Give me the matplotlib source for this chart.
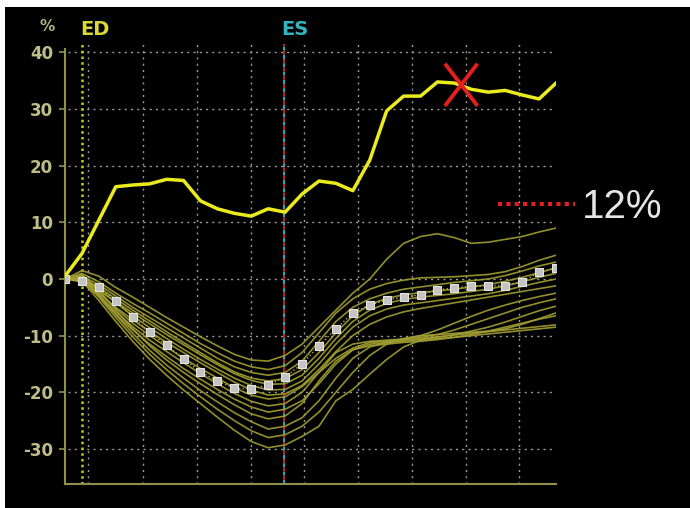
import matplotlib.pyplot as plt
from matplotlib.patches import Rectangle
from matplotlib.lines import Line2D
import numpy as np

plt.rcParams['axes.unicode_minus'] = False

# frame index along the cycle
frames = list(range(30))

# global curve (bright yellow)
global_strain = [0.5, 4.5, 10.4, 16.3, 16.6, 16.8, 17.6, 17.4, 13.8, 12.4,
                 11.6, 11.1, 12.4, 11.8, 15.0, 17.3, 16.9, 15.6, 21.0, 29.7,
                 32.3, 32.3, 34.8, 34.6, 33.5, 33.0, 33.3, 32.5, 31.8, 34.6]

# mean of segments (grey squares)
mean_strain = [0.0, -0.4, -1.4, -3.9, -6.7, -9.4, -11.7, -14.1, -16.4, -18.0,
               -19.3, -19.4, -18.7, -17.3, -15.0, -11.8, -8.8, -6.0, -4.6, -3.7,
               -3.2, -2.8, -1.9, -1.6, -1.2, -1.2, -1.2, -0.5, 1.2, 1.9]

# individual segment curves
seg_a = [0, 1.5, 0.5, -1.5, -3.2, -5.0, -6.8, -8.5, -10.2, -11.8, -13.3, -14.3, -14.5, -13.5, -11.5,
         -8.5, -5.5, -2.5, 0.0, 3.5, 6.3, 7.5, 8.0, 7.3, 6.3, 6.5, 7.0, 7.5, 8.3, 9.0]
seg_b = [0, 1.0, -0.5, -2.5, -4.3, -6.0, -7.8, -9.6, -11.4, -13.0, -14.5, -15.5, -16.0, -15.3, -13.0,
         -9.5, -6.0, -3.5, -1.8, -0.8, -0.2, 0.2, 0.3, 0.4, 0.6, 0.8, 1.3, 2.2, 3.3, 4.2]
seg_c = [0, 0.5, -1.0, -3.0, -5.0, -6.8, -8.6, -10.4, -12.2, -14.0, -15.5, -16.5, -17.0, -16.5, -14.5,
         -11.0, -7.5, -5.0, -3.5, -2.5, -1.8, -1.4, -1.0, -0.6, -0.3, 0.0, 0.6, 1.4, 2.3, 3.0]
seg_d = [0, 0.2, -1.5, -3.5, -5.5, -7.4, -9.3, -11.2, -13.0, -14.8, -16.4, -17.5, -18.0, -17.6, -16.0,
         -13.0, -9.5, -6.5, -4.5, -3.4, -2.8, -2.4, -2.1, -1.8, -1.4, -1.0, -0.4, 0.3, 1.1, 2.0]
seg_e = [0, 0.0, -2.0, -4.0, -6.0, -7.9, -9.8, -11.6, -13.4, -15.1, -16.7, -17.9, -18.6, -18.5, -17.0,
         -14.0, -10.5, -7.5, -5.5, -4.3, -3.6, -3.2, -2.9, -2.6, -2.2, -1.8, -1.2, -0.5, 0.3, 1.0]
seg_f = [0, 0.3, -1.8, -4.2, -6.5, -8.6, -10.5, -12.4, -14.2, -15.9, -17.5, -18.8, -19.6, -19.5, -18.0,
         -15.0, -11.5, -8.5, -6.5, -5.3, -4.6, -4.2, -3.8, -3.4, -3.0, -2.6, -2.0, -1.3, -0.6, 0.0]
seg_g = [0, -0.2, -2.5, -5.0, -7.2, -9.3, -11.2, -13.0, -14.8, -16.5, -18.2, -19.6, -20.5, -20.3, -18.8,
         -16.0, -12.8, -10.0, -8.0, -6.7, -5.8, -5.2, -4.7, -4.2, -3.7, -3.2, -2.7, -2.2, -1.7, -1.2]
seg_h = [0, 0.5, -2.2, -5.2, -7.8, -10.0, -12.0, -14.0, -15.8, -17.5, -19.2, -20.5, -21.2, -20.8, -19.0,
         -16.5, -14.0, -12.2, -11.2, -11.0, -10.6, -10.0, -9.0, -7.8, -6.6, -5.5, -4.6, -3.8, -3.1, -2.5]
seg_i = [0, 0.0, -2.8, -5.8, -8.4, -10.8, -12.8, -14.8, -16.7, -18.5, -20.2, -21.6, -22.4, -22.0, -20.0,
         -16.5, -13.0, -11.5, -11.0, -10.8, -10.6, -10.3, -9.8, -9.0, -8.0, -7.0, -6.0, -5.0, -4.2, -3.5]
seg_j = [0, -0.5, -3.0, -6.2, -9.0, -11.5, -13.7, -15.8, -17.7, -19.5, -21.2, -22.6, -23.5, -23.0, -21.5,
         -18.5, -15.0, -12.5, -11.5, -11.2, -11.0, -10.7, -10.3, -9.8, -9.2, -8.5, -7.6, -6.6, -5.6, -4.8]
seg_k = [0, 0.8, -2.0, -5.5, -8.8, -11.8, -14.3, -16.5, -18.5, -20.4, -22.2, -23.8, -24.7, -24.2, -22.0,
         -18.0, -14.5, -12.5, -11.8, -11.5, -11.2, -11.0, -10.7, -10.3, -9.8, -9.2, -8.5, -7.8, -7.1, -6.5]
seg_l = [0, 0.5, -2.8, -6.3, -9.6, -12.6, -15.2, -17.5, -19.7, -21.7, -23.6, -25.2, -26.5, -26.0, -24.5,
         -21.5, -17.5, -14.0, -12.0, -11.2, -10.8, -10.5, -10.2, -9.9, -9.6, -9.3, -9.0, -8.7, -8.4, -8.1]
seg_m = [0, 0.2, -3.2, -6.8, -10.2, -13.3, -16.0, -18.5, -20.8, -23.0, -25.0, -26.8, -28.0, -27.5, -26.0,
         -23.5, -20.0, -16.5, -13.5, -11.5, -10.5, -10.0, -9.8, -9.6, -9.4, -9.2, -8.8, -8.0, -7.0, -6.0]
seg_n = [0, -0.3, -3.8, -7.5, -11.0, -14.2, -17.0, -19.6, -22.0, -24.4, -26.7, -28.7, -29.8, -29.3, -27.8,
         -26.0, -21.5, -19.5, -16.8, -14.2, -12.0, -10.8, -10.5, -10.3, -10.0, -9.7, -9.4, -9.1, -8.8, -8.5]
segments = [seg_a, seg_b, seg_c, seg_d, seg_e, seg_f, seg_g, seg_h,
            seg_i, seg_j, seg_k, seg_l, seg_m, seg_n]

y_ticks = [40, 30, 20, 10, 0, -10, -20, -30]
y_tick_labels = ['40', '30', '20', '10', '0', '-10', '-20', '-30']
ed_frame = 1.0
es_frame = 12.94
peak_frame = 23.4
peak_value = 34.3
grid_frames = [1.36, 4.61, 7.80, 10.99, 14.12, 17.31, 20.50, 23.69, 26.82]

fig = plt.figure(figsize=(6.9, 5.08), dpi=100)
fig.patch.set_facecolor('white')
fig.patches.append(Rectangle((5 / 690, 0), 685 / 690, 501 / 508, transform=fig.transFigure,
                             facecolor='black', edgecolor='none', zorder=-10))

ax = fig.add_axes([65 / 690, 1 - 484 / 508, 491 / 690, 440 / 508])
ax.set_facecolor('black')
ax.set_xlim(0, 29)
ax.set_ylim(-36.2, 41.5)

axis_col = '#8f8f4f'
for side in ['top', 'right']:
    ax.spines[side].set_visible(False)
for side in ['left', 'bottom']:
    ax.spines[side].set_color(axis_col)
    ax.spines[side].set_linewidth(1.5)
ax.spines['left'].set_bounds(-36.2, 40.6)
ax.set_xticks([])
ax.set_yticks(y_ticks)
ax.set_yticklabels(y_tick_labels)
ax.tick_params(axis='y', colors=axis_col, length=4.5, width=1.2, pad=4,
               labelcolor='#bdbd85', labelsize=12)
for lab in ax.get_yticklabels():
    lab.set_fontweight('bold')

# dotted grid
grid_style = dict(color='#9a9a9a', linewidth=1.0, linestyle=(0, (1.5, 3)), zorder=1)
for yv in y_ticks:
    ax.plot([0.2, 29], [yv, yv], **grid_style)
for xv in grid_frames:
    ax.axvline(xv, **grid_style)

# ED / ES markers
ax.axvline(ed_frame, color='#c8c81e', linewidth=1.8, linestyle=(0, (1, 1.3)), zorder=2)
ax.axvline(es_frame, color='#2aa8b0', linewidth=1.5, linestyle=(0, (2, 2)), zorder=2)
ax.axvline(es_frame, color='#c02020', linewidth=1.5, linestyle=(2, (2, 2)), zorder=2)

for seg in segments:
    ax.plot(frames, seg, color='#a29e32', linewidth=1.2, alpha=0.9, zorder=3)

ax.plot(frames, mean_strain, color='#b8b440', linewidth=1.0, linestyle=':', zorder=4)
ax.plot(frames, mean_strain, linestyle='none', marker='s', markersize=5.5,
        markerfacecolor='#c4c4c4', markeredgecolor='#e4e4e4', markeredgewidth=0.8, zorder=5)

ax.plot(frames, global_strain, color='#eaea1c', linewidth=2.5, zorder=6)

# red cross at the peak
dx, dy = 0.89, 3.45
ax.plot([peak_frame - dx, peak_frame + dx], [peak_value + dy, peak_value - dy],
        color='#e4201c', linewidth=2.8, zorder=7)
ax.plot([peak_frame - dx, peak_frame + dx], [peak_value - dy, peak_value + dy],
        color='#e4201c', linewidth=2.8, zorder=7)

# labels
fig.text(80 / 690, 1 - 35 / 508, 'ED', color='#d9d937', fontsize=14, fontweight='bold',
         family=['Liberation Sans Narrow', 'DejaVu Sans'], va='baseline')
fig.text(281 / 690, 1 - 35 / 508, 'ES', color='#35b5c0', fontsize=14, fontweight='bold',
         family=['Liberation Sans Narrow', 'DejaVu Sans'], va='baseline')
fig.text(39 / 690, 1 - 31 / 508, '%', color='#b5b580', fontsize=11, fontweight='bold',
         va='baseline')

# "12%" legend
fig.add_artist(Line2D([498 / 690, 575 / 690], [1 - 204 / 508, 1 - 204 / 508],
                      transform=fig.transFigure, color='#e02020', linewidth=3,
                      linestyle=(0, (1, 1))))
fig.text(582 / 690, 1 - 218 / 508, '12%', color='#e6e6e6', fontsize=29,
         family=['Liberation Sans', 'DejaVu Sans'], va='baseline')

fig.savefig('out.png', dpi=100, facecolor='white')
